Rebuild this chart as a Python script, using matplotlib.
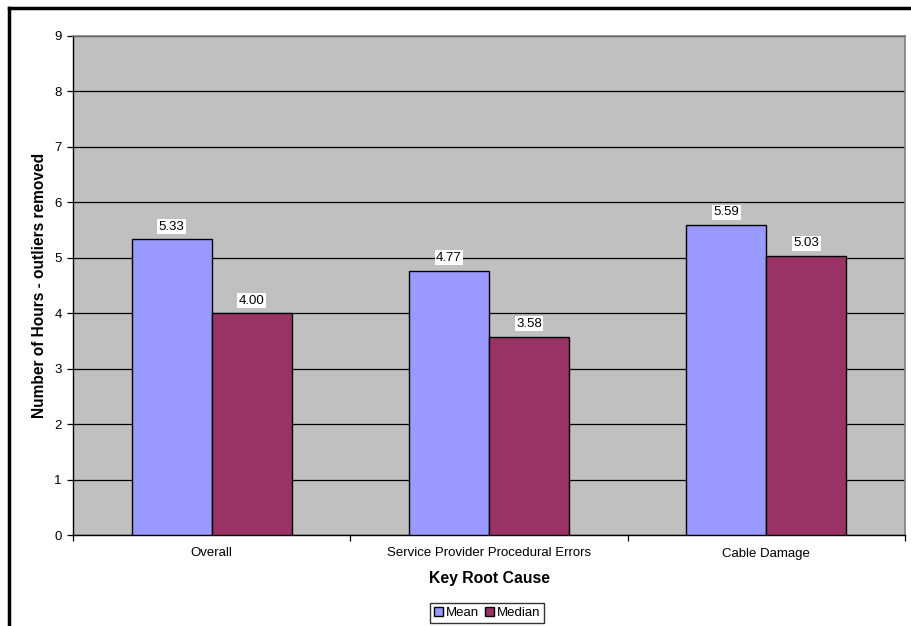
import numpy as np
import matplotlib
matplotlib.use("Agg")
import matplotlib.pyplot as plt
from matplotlib.lines import Line2D

plt.rcParams['font.family'] = ['Liberation Sans', 'DejaVu Sans']

categories = ["Overall", "Service Provider Procedural Errors", "Cable Damage"]
mean_vals = [5.33, 4.77, 5.59]
median_vals = [4.00, 3.58, 5.03]
series_names = ["Mean", "Median"]
series_colors = ["#9999FF", "#993366"]

fig = plt.figure(figsize=(9.11, 6.26), dpi=100)
ax = fig.add_axes([73 / 911, 91 / 626, 832 / 911, 499 / 626])

x = np.arange(len(categories))
w = 0.2885
for vals, off, name, col in [(mean_vals, -w / 2, series_names[0], series_colors[0]),
                             (median_vals, w / 2, series_names[1], series_colors[1])]:
    bars = ax.bar(x + off, vals, width=w, color=col, edgecolor="black",
                  linewidth=1.0, label=name, zorder=3)
    for b, v in zip(bars, vals):
        ax.text(b.get_x() + b.get_width() / 2, v + 0.12, "%.2f" % v,
                ha="center", va="bottom", fontsize=9.5, zorder=4,
                bbox=dict(facecolor="white", edgecolor="none", pad=1))

ax.set_facecolor("#C0C0C0")
ax.set_xlim(-0.5, 2.5)
ax.set_ylim(0, 9)
ax.set_yticks(range(10))
ax.yaxis.grid(True, color="black", linewidth=0.9, zorder=1)
ax.set_axisbelow(True)

ax.set_xticks(x)
ax.set_xticklabels(categories, fontsize=9.5)
ax.set_xticks([-0.5, 0.5, 1.5, 2.5], minor=True)
ax.tick_params(axis="x", which="major", length=0, pad=9)
ax.tick_params(axis="x", which="minor", length=4, direction="out", width=0.9)
ax.tick_params(axis="y", length=4, direction="out", width=0.9, labelsize=9.5, pad=4)

for s in ["top", "right"]:
    ax.spines[s].set_color("#808080")
    ax.spines[s].set_linewidth(1.2)
for s in ["left", "bottom"]:
    ax.spines[s].set_color("black")
    ax.spines[s].set_linewidth(1.0)

ax.set_xlabel("Key Root Cause", fontsize=11.3, fontweight="bold", labelpad=8)
ax.set_ylabel("Number of Hours - outliers removed", fontsize=11.2,
              fontweight="bold", labelpad=5)

leg = ax.legend(loc="center", bbox_to_anchor=(487 / 911, (626 - 613) / 626),
                bbox_transform=fig.transFigure, ncol=2, fontsize=9.5,
                frameon=True, fancybox=False, edgecolor="black",
                handlelength=0.7, handleheight=0.7, handletextpad=0.2,
                columnspacing=0.45, borderpad=0.3, borderaxespad=0)
leg.get_frame().set_linewidth(1.0)

# outer chart border (left and top visible)
fig.add_artist(Line2D([9 / 911, 9 / 911], [0, 1 - 8 / 626], transform=fig.transFigure,
                      color="black", linewidth=2.5))
fig.add_artist(Line2D([9 / 911, 1], [1 - 8 / 626, 1 - 8 / 626], transform=fig.transFigure,
                      color="black", linewidth=2.5))

fig.savefig("out.png", dpi=100)
